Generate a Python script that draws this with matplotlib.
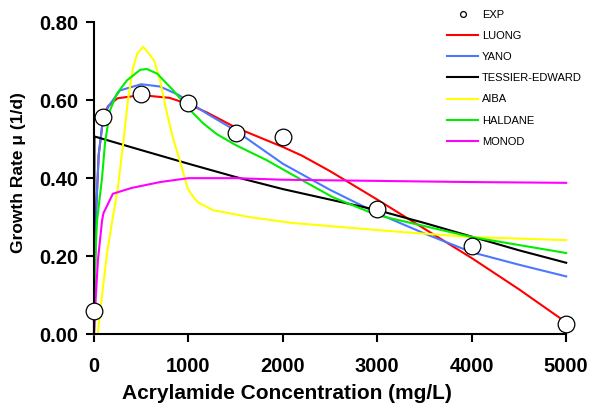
import matplotlib.pyplot as plt
import numpy as np

plt.rcParams['font.family'] = ['Liberation Sans', 'DejaVu Sans']

# experimental points
exp_x = [0, 100, 500, 1000, 1500, 2000, 3000, 4000, 5000]
exp_y = [0.06, 0.558, 0.615, 0.592, 0.517, 0.505, 0.32, 0.227, 0.027]

# model curves
luong_x = [0, 20, 50, 100, 150, 250, 500, 800, 1000, 1200, 1500, 1800, 2000, 2200, 2500, 3000, 3500, 4000, 4500, 5000]
luong_y = [0, 0.30, 0.46, 0.56, 0.585, 0.605, 0.613, 0.606, 0.59, 0.568, 0.53, 0.5, 0.48, 0.458, 0.418, 0.345, 0.27, 0.195, 0.115, 0.03]

yano_x = [0, 20, 50, 100, 170, 275, 500, 700, 900, 1000, 1200, 1500, 2000, 2500, 3000, 3500, 4000, 4500, 5000]
yano_y = [0, 0.30, 0.46, 0.56, 0.59, 0.625, 0.641, 0.635, 0.613, 0.596, 0.565, 0.522, 0.437, 0.37, 0.31, 0.258, 0.21, 0.178, 0.148]

tessier_x = [0, 5, 500, 1000, 1500, 2000, 2500, 3000, 3500, 4000, 4500, 5000]
tessier_y = [0, 0.507, 0.472, 0.437, 0.403, 0.372, 0.345, 0.318, 0.285, 0.25, 0.215, 0.183]

aiba_x = [0, 40, 95, 140, 200, 250, 310, 360, 410, 460, 520, 580, 640, 700, 770, 840, 910, 990, 1050, 1100, 1260, 1650, 2100, 2600, 3250, 4000, 5000]
aiba_y = [0, 0.0, 0.12, 0.21, 0.30, 0.37, 0.49, 0.60, 0.68, 0.72, 0.737, 0.72, 0.70, 0.65, 0.57, 0.50, 0.445, 0.375, 0.352, 0.338, 0.318, 0.30, 0.285, 0.275, 0.262, 0.249, 0.241]

haldane_x = [0, 15, 32, 85, 117, 170, 243, 350, 490, 560, 670, 840, 1020, 1150, 1300, 1500, 1830, 2180, 2530, 3000, 4000, 5000]
haldane_y = [0, 0.20, 0.29, 0.40, 0.49, 0.574, 0.617, 0.651, 0.678, 0.68, 0.668, 0.625, 0.574, 0.542, 0.513, 0.485, 0.446, 0.398, 0.351, 0.305, 0.249, 0.208]

monod_x = [0, 20, 42, 85, 100, 200, 400, 700, 1000, 1500, 2000, 3000, 4000, 5000]
monod_y = [0, 0.10, 0.19, 0.29, 0.31, 0.36, 0.375, 0.39, 0.40, 0.40, 0.396, 0.393, 0.39, 0.388]

fig = plt.figure(figsize=(5.91, 4.04), dpi=100)
ax = fig.add_axes([0.159, 0.173, 0.799, 0.772])

lw = 1.5
ax.plot(exp_x, exp_y, 'o', color='black', markerfacecolor='white', markersize=12,
        markeredgewidth=0.9, zorder=5, label='EXP')
ax.plot(luong_x, luong_y, color='#ff0000', lw=lw, label='LUONG')
ax.plot(yano_x, yano_y, color='#4a78ff', lw=lw, label='YANO')
ax.plot(tessier_x, tessier_y, color='black', lw=lw, label='TESSIER-EDWARD')
ax.plot(aiba_x, aiba_y, color='#ffff00', lw=lw, label='AIBA')
ax.plot(haldane_x, haldane_y, color='#00ee00', lw=lw, label='HALDANE')
ax.plot(monod_x, monod_y, color='#ff00ff', lw=lw, label='MONOD')

ax.set_xlim(0, 5000)
ax.set_ylim(0, 0.8)
ax.set_xticks(np.arange(0, 5001, 1000))
ax.set_yticks(np.arange(0, 0.81, 0.2))
ax.set_yticklabels(['%.2f' % v for v in np.arange(0, 0.81, 0.2)])
ax.spines['top'].set_visible(False)
ax.spines['right'].set_visible(False)
ax.spines['left'].set_linewidth(1.5)
ax.spines['bottom'].set_linewidth(1.5)
ax.tick_params(direction='out', length=5.5, width=1.5, labelsize=14.5)
ax.tick_params(axis='x', pad=11)
ax.tick_params(axis='y', pad=6)
for t in ax.get_xticklabels() + ax.get_yticklabels():
    t.set_fontweight('bold')
for ln in ax.lines:
    ln.set_clip_on(False)

ax.set_xlabel('Acrylamide Concentration (mg/L)', fontsize=15, fontweight='bold', labelpad=5)
ax.set_ylabel('Growth Rate \u03bc (1/d)', fontsize=12.5, fontweight='bold', labelpad=8)
ax.xaxis.set_label_coords(0.409, -0.16)
ax.yaxis.set_label_coords(-0.144, 0.518)

leg = ax.legend(loc='upper left', bbox_to_anchor=(447 / 591, 1 - 10 / 404),
                bbox_transform=fig.transFigure, frameon=False, fontsize=8,
                borderpad=0, borderaxespad=0, handlelength=2.8, handletextpad=0.36,
                labelspacing=1.0, markerscale=0.35)

fig.savefig('out.png', dpi=100)
